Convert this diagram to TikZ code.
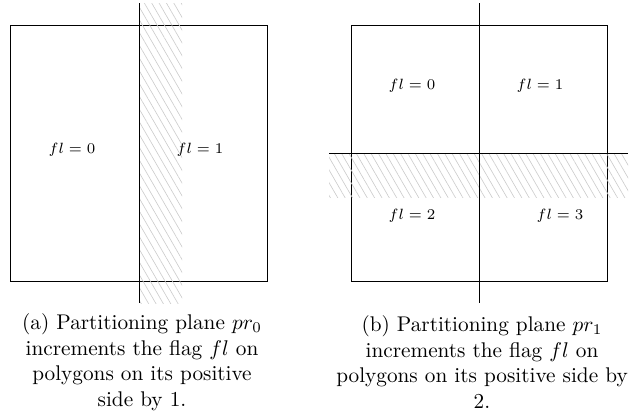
\documentclass[tikz,border=0pt]{standalone}
\usepackage{amsmath,amssymb}
\usetikzlibrary{patterns.meta}
\tikzset{hatch/.style={pattern={Lines[angle=-60,distance=3pt,line width=0.3pt]},pattern color=black!20}}

\begin{document}
\begin{tikzpicture}[x=0.4706pt,y=-0.4706pt]
\useasboundingbox (0,0) rectangle (639,416);
% (a) one plane
\draw (10,25) rectangle (267,281);
\fill[hatch] (139,3) rectangle (182,303);
\draw (139,3)--(139,303);
\draw (72,150) node (a0) {\scriptsize $fl=0$};
\draw (200,150) node (a1) {\scriptsize $fl=1$};
\draw (142,362) node[align=center] (capa) {(a) Partitioning plane $pr_0$\\ increments the flag $fl$ on\\ polygons on its positive\\ side by 1.};

% (b) second plane
\draw (351,25) rectangle (607,281);
\fill[hatch] (329,153) rectangle (628,197);
\draw (479,3)--(479,303);
\draw (329,153)--(628,153);
\draw (412,86) node (b0) {\scriptsize $fl=0$};
\draw (540,86) node (b1) {\scriptsize $fl=1$};
\draw (412,216) node (b2) {\scriptsize $fl=2$};
\draw (560,216) node (b3) {\scriptsize $fl=3$};
\draw (482,362) node[align=center] (capb) {(b) Partitioning plane $pr_1$\\ increments the flag $fl$ on\\ polygons on its positive side by\\ 2.};
\end{tikzpicture}
\end{document}
